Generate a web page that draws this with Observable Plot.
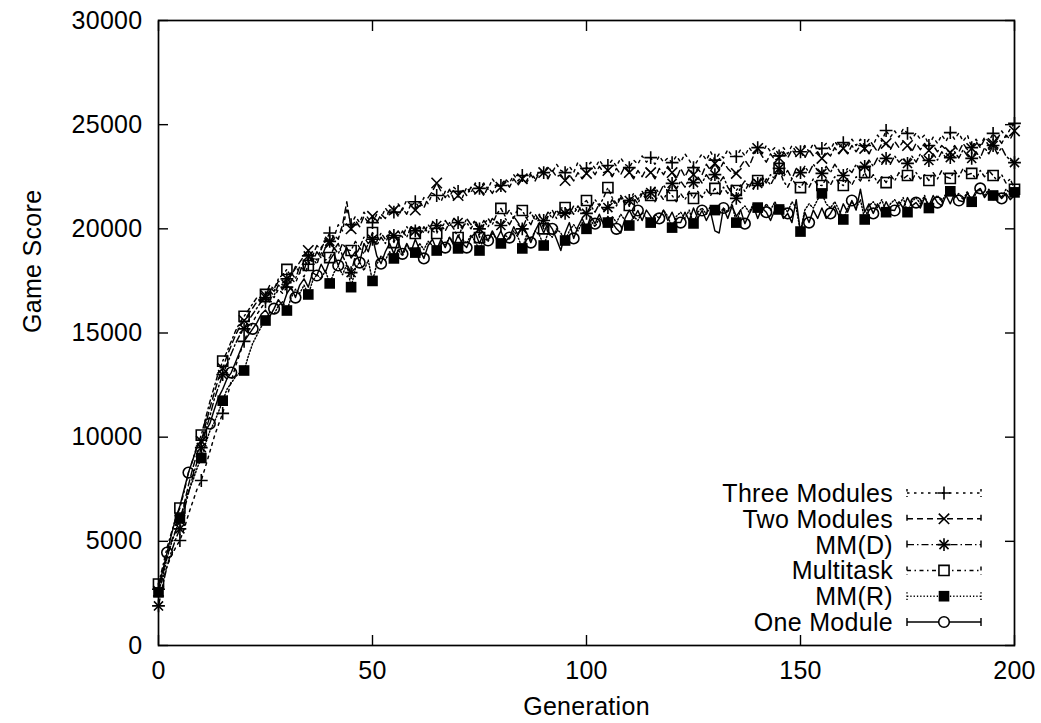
<!DOCTYPE html>
<html>
<head>
<meta charset="utf-8">
<script src="https://cdn.jsdelivr.net/npm/d3@7"></script>
<script src="https://cdn.jsdelivr.net/npm/@observablehq/plot@0.6"></script>
<style>
  html, body { margin: 0; padding: 0; background: #fff; }
  #chart svg { display: block; }
</style>
</head>
<body>
<div id="chart"></div>
<script>
// ---------- Data ----------
const seriesNames = ["Three Modules", "Two Modules", "MM(D)", "Multitask", "MM(R)", "One Module"];
const generations = d3.range(0, 201);   // generation 0 .. 200

const threeModules = [
  2700,3200,3800,4300,4700,5040,5600,6300,6900,7500,
  7920,8600,9300,10000,10600,11140,11900,12700,13400,14000,
  14600,15100,15500,15900,16200,16500,16900,16700,17100,16900,
  17200,17600,17400,17900,17700,18300,18700,18500,19100,19400,
  19800,19600,20200,19900,21000,20200,20600,20300,20800,20500,
  20300,20700,20500,21000,20700,20800,21200,20900,21400,21100,
  21300,21000,21500,21200,21700,21600,21300,21800,21500,22000,
  21800,21500,22000,21700,22200,21940,22200,21900,22400,22100,
  22080,22400,22200,22600,22300,22560,22300,22700,22400,22800,
  22700,23000,22700,23100,22800,22700,23000,22700,23200,22900,
  22900,23200,22900,23300,23000,23040,23300,23000,23400,23100,
  22940,23300,23100,23500,23200,23420,23100,23500,23200,23400,
  23180,23500,23200,23600,23300,22940,23300,23600,23300,23700,
  23300,23600,23400,23800,23500,23470,23800,23500,23900,23600,
  23900,23600,24000,23700,23900,23500,23900,23600,24000,23700,
  23700,24000,23700,24100,23800,23860,24100,23800,24200,23900,
  24140,23900,24300,24000,24300,24000,24300,24000,24500,24200,
  24720,24400,24700,24400,24800,24580,24300,24600,24300,24500,
  24000,24400,24100,24500,24200,24620,24300,24600,24200,24500,
  23900,24300,24000,24400,24200,24580,24300,24700,24400,24800,
  25060
];
const twoModules = [
  2600,3500,4300,5000,5500,6000,6800,7700,8500,9200,
  9800,10600,11400,12100,12800,13300,13900,14400,14900,15300,
  15600,15900,16200,16500,16600,16800,17200,17000,17500,17300,
  17300,17800,18100,18400,18700,18960,18700,19200,19000,19500,
  19300,19700,19500,20200,21300,20000,20400,20100,20600,20300,
  20600,20300,20700,20500,20900,20900,20600,21000,20700,21200,
  20900,21300,21000,21500,21800,22200,21800,21500,21900,21400,
  21600,21900,21600,22000,21700,21900,21600,22000,21700,22100,
  22000,22300,22000,22400,22100,22400,22200,22600,22300,22700,
  22700,22400,22800,22500,22600,22320,22600,22300,22700,22400,
  22660,22900,22600,23000,22700,22800,22500,22900,22600,23000,
  22700,22400,22800,22500,22900,22700,22400,22900,22600,23000,
  22700,22400,22900,22500,22900,22600,22900,22600,23100,22800,
  23140,22800,23200,22900,22700,22660,23000,23300,23000,23500,
  23860,23500,23200,23600,23300,23400,23700,23400,23800,23500,
  23700,23400,23800,23500,23700,23380,23700,23500,23900,23600,
  23860,23600,24000,23700,24000,23860,23600,24000,23700,24100,
  24100,23800,24200,23900,24200,24000,23700,24100,23800,24100,
  23760,24000,23700,24000,23800,23660,24000,23700,24100,23800,
  23860,24200,23900,24300,24000,24100,24400,24100,24500,24300,
  24700
];
const mmD = [
  1900,2900,3800,4500,5100,5600,6500,7300,8100,8800,
  9500,10300,11000,11800,12400,13000,13500,14000,14500,14900,
  15200,15600,15900,16200,16500,16700,17000,16800,17300,17100,
  17600,17900,17600,18200,18000,18700,18400,18900,18600,19100,
  19400,19000,19300,18700,18300,17900,18700,19100,18800,19300,
  19500,19200,19600,19300,19800,19680,19400,19900,19600,20100,
  19900,19600,20100,19800,20300,20160,19900,20400,20100,20500,
  20300,20000,20500,20200,20400,20000,20400,20100,20500,20300,
  20160,20500,20200,20600,20300,20000,20500,20200,20700,20400,
  20400,20800,20500,20900,20600,20740,21000,20700,21100,20800,
  20740,21100,20800,21200,20900,21020,21400,21100,21500,21200,
  21360,21700,21400,21800,21500,21740,22000,21700,22100,21800,
  22180,21900,22300,22000,22400,22220,22500,22200,22600,22300,
  22600,22200,22500,22000,21700,21460,22000,22300,22000,22400,
  22180,22500,22200,22600,22400,22900,22500,22800,22400,22900,
  22700,23000,22700,23100,22800,22660,23000,22700,23100,22800,
  22560,22900,22700,23100,22800,23000,23300,23000,23400,23100,
  23380,23100,23500,23200,23400,23140,23500,23200,23600,23300,
  23280,23600,23300,23700,23400,23420,23700,23400,23800,23500,
  23380,23700,23400,23900,23600,24000,23600,23900,23500,23300,
  23180
];
const multitask = [
  2950,3800,4700,5400,6100,6600,7400,8300,8900,9600,
  10100,10900,11700,12400,13100,13650,14100,14600,15100,15500,
  15800,16100,16400,16700,16500,16850,17300,17100,17600,17800,
  18050,17700,18200,17900,18500,18240,18600,18300,18900,18500,
  18620,19100,18800,19300,19000,18960,19400,19100,19600,19300,
  19820,19400,19800,19500,19900,19340,19900,19600,20100,19800,
  19780,20100,19800,20200,19900,19780,20200,19900,20300,20000,
  19580,20100,20300,20000,20400,19580,20200,20500,20200,20700,
  20980,20600,20900,20500,21000,20880,20500,20800,20400,20700,
  20000,20600,20900,20500,21000,21020,20700,21100,20800,21200,
  21360,21000,21400,21100,21500,21980,21500,21200,21600,21300,
  21120,21500,21200,21700,21400,21600,21300,21700,21400,21800,
  21600,21300,21700,21400,21800,21460,21800,21500,21900,21600,
  21940,21600,22000,21700,22100,21840,22100,21800,22200,21900,
  22320,22000,22400,22100,22500,22900,22300,22000,22400,22100,
  21980,22300,22000,22400,22100,22080,22400,22100,22500,22200,
  22080,22400,22100,22500,22300,22700,22300,22600,22200,22500,
  22220,22600,22300,22700,22400,22560,22300,22700,22400,22600,
  22320,22700,22400,22800,22500,22420,22800,22500,22900,22600,
  22660,22400,22800,22500,22800,22560,22300,22600,22200,22400,
  21900
];
const mmR = [
  2550,3300,4200,4900,5500,6100,6700,7400,7900,8500,
  9000,9700,10300,10700,11200,11750,12300,12600,12900,13100,
  13200,13900,14500,14900,15300,15600,16000,15900,16300,16500,
  16080,16700,17100,16900,17300,16850,17500,17800,17600,18000,
  17380,17900,18200,17800,18300,17200,18100,18400,18000,18500,
  17500,18300,18700,18500,18900,18580,19000,18700,19200,18900,
  18860,19300,19000,19400,19200,18960,19400,19200,19600,19300,
  19060,19500,19300,19700,19400,18960,19600,19400,19800,19500,
  19300,19700,19500,19900,19600,19060,19700,19500,19900,19700,
  19200,19800,19600,20000,19800,19440,19900,20200,19900,20300,
  20000,20400,20100,20500,20300,20300,20600,20300,20700,20400,
  20160,20600,20400,20800,20500,20300,20700,20500,20900,20600,
  20060,20600,20800,20500,20900,20260,20800,21000,20700,21100,
  20900,20700,21000,20800,21200,20300,20900,21100,20800,21200,
  21020,20800,21200,20900,21300,20930,21100,20800,21300,21000,
  19870,20900,21200,21000,21400,21700,21200,21000,21300,20900,
  20450,21000,21300,21000,21400,20450,21100,21300,21000,21400,
  20800,21200,21400,21100,21500,20800,21300,21500,21200,21600,
  21000,21400,21600,21300,21700,21800,21500,21700,21400,21800,
  21300,21700,21900,21600,21900,21600,21800,21500,21900,21700,
  21750
];
const oneModule = [
  2800,3600,4460,5300,6100,6700,7500,8300,8900,9500,
  9900,10300,10650,11300,11900,12300,12800,13100,13600,14100,
  14600,14900,15200,15500,15900,16100,15800,16170,16600,16300,
  16900,17200,16700,17300,17600,17200,17900,17760,18300,17900,
  18500,18800,18240,18700,19100,18600,18900,18380,19300,18900,
  19600,18700,18330,18900,19300,18800,19400,18800,19300,18900,
  19500,19000,18580,19200,19500,19000,19500,19100,19600,19200,
  19700,19300,19100,19600,19800,19300,19800,19440,19900,19500,
  19900,19400,19580,20100,19700,20200,19800,19340,19900,20300,
  19800,20300,20000,19500,18960,19800,20300,19540,20100,20500,
  20000,20600,20250,20700,20200,20600,20300,20000,19800,20500,
  20900,20500,20880,20400,20900,20600,20200,20500,20900,20400,
  20800,20300,20300,20800,20400,21000,20500,20880,20400,20800,
  19900,19800,21000,20500,21100,20600,20900,20250,20700,21100,
  20500,21000,20800,20400,20900,21000,20500,20740,20300,21400,
  19800,20800,20300,20900,20500,21000,20500,20740,21100,20600,
  21200,20800,21360,20900,21900,20800,21200,20740,21200,20800,
  21300,20900,20880,21300,21000,21500,21100,21260,21000,21500,
  21100,21600,21260,21100,21600,21200,21700,21360,21300,21700,
  21400,21800,21940,21500,21800,21400,21700,21460,21700,21400,
  21600
];
const seriesValues = [threeModules, twoModules, mmD, multitask, mmR, oneModule];

const xTicks = [0, 50, 100, 150, 200];
const yTicks = [0, 5000, 10000, 15000, 20000, 25000, 30000];
const xLabel = "Generation";
const yLabel = "Game Score";

// ---------- Styles (gnuplot-like monochrome) ----------
const styles = [
  {name: "Three Modules", dash: "2.5,4.5",   offset: 0, marks: [{symbol: "plus", r: 4.2}], fill: "none"},
  {name: "Two Modules",   dash: "6,4",       offset: 0, marks: [{symbol: "times", r: 4.8}], fill: "none"},
  {name: "MM(D)",         dash: "7,3,1.5,3", offset: 0, marks: [{symbol: "plus", r: 4.2}, {symbol: "times", r: 4.2}], fill: "none"},
  {name: "Multitask",     dash: "4,3.5,1.5,3.5", offset: 0, marks: [{symbol: "square", r: 5.7}], fill: "none"},
  {name: "MM(R)",         dash: "1.3,2",     offset: 0, marks: [{symbol: "square", r: 6}], fill: "black"},
  {name: "One Module",    dash: null,        offset: 2, marks: [{symbol: "circle", r: 5.3}], fill: "none"}
];

// ---------- Tidy table ----------
const rows = [];
seriesNames.forEach((name, i) => {
  seriesValues[i].forEach((v, j) => rows.push({series: name, gen: generations[j], value: v}));
});

const FONT = "'Liberation Sans', Arial, Helvetica, sans-serif";
const FS = 25;
const LS = "0.3px";
const LINE_W = 1.45;
const MARK_W = 1.6;

// ---------- Legend (drawn inside the frame, bottom right) ----------
function legendMark() {
  const g = d3.create("svg:g")
    .attr("font-family", FONT)
    .attr("font-size", FS)
    .attr("letter-spacing", LS)
    .attr("fill", "black");
  const top = 493, step = 25.8, textRight = 893, x0 = 907, x1 = 981, xm = 944;
  styles.forEach((s, i) => {
    const y = top + i * step;
    g.append("text")
      .attr("x", textRight).attr("y", y)
      .attr("dy", "0.36em")
      .attr("text-anchor", "end")
      .text(s.name);
    g.append("path")
      .attr("d", `M${x0},${y}H${x1}M${x0},${y - 4}V${y + 4}M${x1},${y - 4}V${y + 4}`)
      .attr("fill", "none")
      .attr("stroke", "black")
      .attr("stroke-width", LINE_W)
      .attr("stroke-dasharray", s.dash);
    s.marks.forEach(m => {
      const type = {plus: d3.symbolPlus, times: d3.symbolTimes, square: d3.symbolSquare, circle: d3.symbolCircle}[m.symbol];
      g.append("path")
        .attr("transform", `translate(${xm},${y})`)
        .attr("d", d3.symbol(type, Math.PI * m.r * m.r)())
        .attr("fill", s.fill === "black" ? "black" : "white")
        .attr("stroke", s.fill === "black" ? "none" : "black")
        .attr("stroke-width", MARK_W);
    });
  });
  return g.node();
}

// ---------- Marks ----------
const marks = [];
styles.forEach(s => {
  marks.push(Plot.line(rows.filter(d => d.series === s.name), {
    x: "gen", y: "value", stroke: "black", strokeWidth: LINE_W,
    strokeDasharray: s.dash == null ? undefined : s.dash
  }));
});
styles.forEach(s => {
  const pts = rows.filter(d => d.series === s.name && d.gen % 5 === s.offset);
  s.marks.forEach(m => {
    marks.push(Plot.dot(pts, {
      x: "gen", y: "value", symbol: m.symbol, r: m.r,
      fill: s.fill, stroke: s.fill === "black" ? "none" : "black", strokeWidth: MARK_W
    }));
  });
});

const chart = Plot.plot({
  width: 1041,
  height: 723,
  marginLeft: 158,
  marginRight: 27,
  marginTop: 20,
  marginBottom: 78,
  style: {fontFamily: FONT, fontSize: FS + "px", letterSpacing: LS, background: "white", color: "black"},
  x: {domain: [0, 200]},
  y: {domain: [0, 30000]},
  marks: [
    ...marks,
    // inward ticks on all four sides (gnuplot mirror ticks)
    Plot.axisX(xTicks, {anchor: "bottom", tickSize: 10, dy: -10, tickFormat: () => "", label: null, strokeWidth: 1.4}),
    Plot.axisX(xTicks, {anchor: "top", tickSize: 10, dy: 10, tickFormat: () => "", label: null, strokeWidth: 1.4}),
    Plot.axisY(yTicks, {anchor: "left", tickSize: 10, dx: 10, tickFormat: () => "", label: null, strokeWidth: 1.4}),
    Plot.axisY(yTicks, {anchor: "right", tickSize: 10, dx: -10, tickFormat: () => "", label: null, strokeWidth: 1.4}),
    // tick labels
    Plot.axisX(xTicks, {anchor: "bottom", tickSize: 0, tickPadding: 16, tickFormat: d => String(d), label: null, fontSize: FS}),
    Plot.axisY(yTicks, {anchor: "left", tickSize: 0, tickPadding: 16, tickFormat: d => String(d), label: null, fontSize: FS}),
    // axis titles
    Plot.text([yLabel], {frameAnchor: "left", rotate: -90, dx: -126, fontSize: FS, text: d => d}),
    Plot.text([xLabel], {frameAnchor: "bottom", dy: 69, fontSize: FS, text: d => d}),
    Plot.frame({stroke: "black", strokeWidth: 1.7}),
    legendMark
  ]
});

document.getElementById("chart").appendChild(chart);
</script>
</body>
</html>
